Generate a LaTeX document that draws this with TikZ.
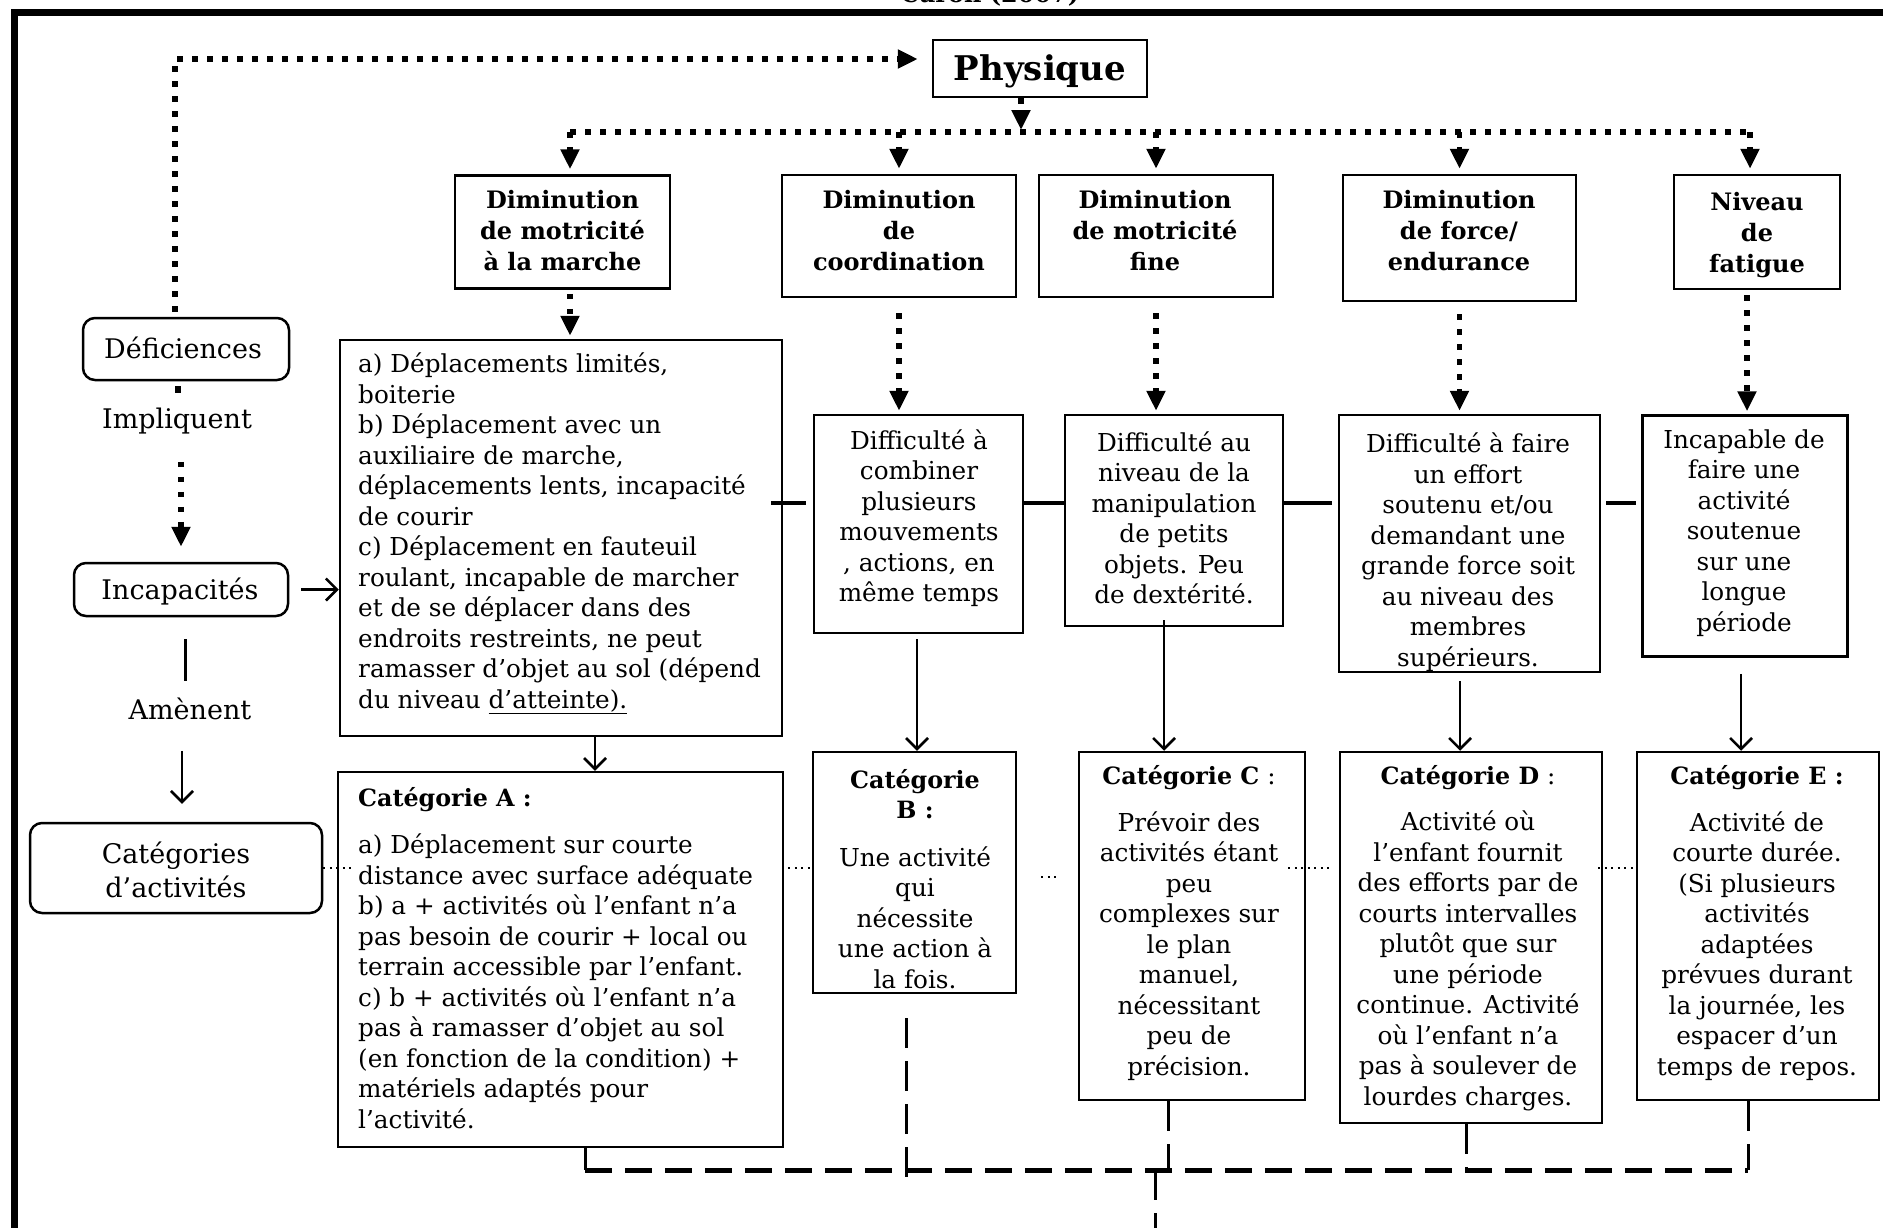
\documentclass[tikz,border=0pt]{standalone}
\usepackage{fontspec}
\setmainfont{DejaVu Serif}
\usetikzlibrary{arrows.meta,calc}
\newcommand\bodyf{\fontsize{24.7pt}{30.5pt}\selectfont}
\newcommand\leftf{\fontsize{27pt}{34pt}\selectfont}
\newcommand\headf{\bfseries\fontsize{24pt}{31pt}\selectfont}
\newcommand\cath[1]{{\fontsize{23.8pt}{30.5pt}\selectfont\bfseries #1}}
\begin{document}
\begin{tikzpicture}[x=1pt,y=-1pt,
  box/.style={draw,line width=2.5pt,inner sep=0pt},
  rbox/.style={box,rounded corners=12pt},
  txt/.style={inner sep=0pt,align=center,font=\bodyf},
  lftxt/.style={inner sep=0pt,align=center,font=\leftf},
  ltxt/.style={inner sep=0pt,align=left,font=\bodyf,anchor=west},
  htxt/.style={inner sep=0pt,align=center,font=\headf},
  dotline/.style={line width=5.5pt,dash pattern=on 5.5pt off 9.5pt},
  dotarrow/.style={dotline,-{Triangle[length=20pt,width=18pt]}},
  solidarrow/.style={line width=2.5pt,-{Straight Barb[length=11pt,width=22pt]}},
  link/.style={line width=3.5pt},
  smalldots/.style={line width=2pt,dash pattern=on 2pt off 4.5pt},
  bigdash/.style={line width=5pt,dash pattern=on 27pt off 13pt},
  thindash/.style={line width=3pt,dash pattern=on 30pt off 13pt}]
\useasboundingbox (0,0) rectangle (1883,1227);
\fill[white] (0,0) rectangle (1883,1227);
% frame and cut title
\draw[line width=7pt] (14.5,1240) -- (14.5,12) -- (1900,12);
\node[font=\bfseries\fontsize{24pt}{28pt}\selectfont,anchor=base] (title) at (990,2) {Caron (2007)};

% top
\node[box,minimum width=214pt,minimum height=57pt] (phys) at (1040,68.5) {};
\node[inner sep=0pt,font=\bfseries\fontsize{34pt}{38pt}\selectfont] (physt) at (1040,71) {Physique};
\coordinate (busL) at (570,132);
\coordinate (busR) at (1750,132);

% left column
\node[rbox,minimum width=206pt,minimum height=62pt] (def) at (186,349) {};
\node[lftxt] (deft) at (183,348) {Déficiences};
\node[lftxt] (impl) at (177,421) {Impliquent};
\node[rbox,minimum width=214pt,minimum height=53pt] (inc) at (181,589.5) {};
\node[lftxt] (inct) at (180,592) {Incapacités};
\node[lftxt] (amen) at (190,709) {Amènent};
\node[rbox,minimum width=292pt,minimum height=90pt] (cat) at (176,868) {};
\node[lftxt] (catt) at (176,870) {Catégories\\d’activités};

% level 1
\node[box,minimum width=215pt,minimum height=113pt] (B1) at (562.5,232) {};
\node[box,minimum width=234pt,minimum height=122pt] (B2) at (899,236) {};
\node[box,minimum width=234pt,minimum height=122pt] (B3) at (1156,236) {};
\node[box,minimum width=233pt,minimum height=126pt] (B4) at (1459.5,238) {};
\node[box,minimum width=166pt,minimum height=114pt] (B5) at (1757,232) {};
\node[htxt] (B1t) at (562.5,231) {Diminution\\de motricité\\à la marche};
\node[htxt] (B2t) at (899,231) {Diminution\\de\\coordination};
\node[htxt] (B3t) at (1155,231) {Diminution\\de motricité\\fine};
\node[htxt] (B4t) at (1459,231) {Diminution\\de force/\\endurance};
\node[htxt] (B5t) at (1757,235) {Niveau\\de\\fatigue};

% level 2
\node[box,minimum width=442pt,minimum height=396pt] (C1) at (561,538) {};
\node[box,minimum width=209pt,minimum height=218pt] (C2) at (918.5,524) {};
\node[box,minimum width=218pt,minimum height=211pt] (C3) at (1174,520.5) {};
\node[box,minimum width=261pt,minimum height=257pt] (C4) at (1469.5,543.5) {};
\node[box,minimum width=205pt,minimum height=241pt] (C5) at (1745,536) {};
\node[ltxt] (C1t) at (358,533.5) {a) Déplacements limités,\\boiterie\\b) Déplacement avec un\\auxiliaire de marche,\\déplacements lents, incapacité\\de courir\\c) Déplacement en fauteuil\\roulant, incapable de marcher\\et de se déplacer dans des\\endroits restreints, ne peut\\ramasser d’objet au sol (dépend\\du niveau \underline{d’atteinte).}};
\node[txt] (C2t) at (919,518) {Difficulté à\\combiner\\plusieurs\\mouvements\\, actions, en\\même temps};
\node[txt] (C3t) at (1174,518) {Difficulté au\\niveau de la\\manipulation\\de petits\\objets. Peu\\de dextérité.};
\begin{scope}
\clip (C4.south west) rectangle (C4.north east);
\node[txt] (C4t) at (1468,552) {Difficulté à faire\\un effort\\soutenu et/ou\\demandant une\\grande force soit\\au niveau des\\membres\\supérieurs.};
\end{scope}
\node[txt] (C5t) at (1744,533) {Incapable de\\faire une\\activité\\soutenue\\sur une\\longue\\période};

% categories
\node[box,minimum width=445pt,minimum height=375pt] (CA) at (560.5,959.5) {};
\node[box,minimum width=203pt,minimum height=241pt] (CB) at (914.5,872.5) {};
\node[box,minimum width=226pt,minimum height=348pt] (CC) at (1192,926) {};
\node[box,minimum width=262pt,minimum height=371pt] (CD) at (1471,937.5) {};
\node[box,minimum width=242pt,minimum height=348pt] (CE) at (1758,926) {};
\node[ltxt] (CAt) at (358,958) {\cath{Catégorie A :}\\[17pt]a) Déplacement sur courte\\distance avec surface adéquate\\b) a + activités où l’enfant n’a\\pas besoin de courir + local ou\\terrain accessible par l’enfant.\\c) b + activités où l’enfant n’a\\pas à ramasser d’objet au sol\\(en fonction de la condition) +\\matériels adaptés pour\\l’activité.};
\begin{scope}
\clip (CB.south west) rectangle (CB.north east);
\node[txt] (CBt) at (915,879) {\cath{Catégorie}\\\cath{B :}\\[17pt]Une activité\\qui\\nécessite\\une action à\\la fois.};
\end{scope}
\node[txt] (CCt) at (1189,923) {\cath{Catégorie C} :\\[16pt]Prévoir des\\activités étant\\peu\\complexes sur\\le plan\\manuel,\\nécessitant\\peu de\\précision.};
\node[txt] (CDt) at (1468,938) {\cath{Catégorie D} :\\[16pt]Activité où\\l’enfant fournit\\des efforts par de\\courts intervalles\\plutôt que sur\\une période\\continue. Activité\\où l’enfant n’a\\pas à soulever de\\lourdes charges.};
\node[txt] (CEt) at (1757,923) {\cath{Catégorie E :}\\[16pt]Activité de\\courte durée.\\(Si plusieurs\\activités\\adaptées\\prévues durant\\la journée, les\\espacer d’un\\temps de repos.};

% --- connectors ---
\draw[dotarrow] ([xshift=-11pt,yshift=5pt]def.north) |- ([xshift=-14pt,yshift=9.5pt]phys.west);
\draw[dotarrow] ([xshift=-19pt]phys.south) -- ([xshift=-19pt,yshift=2pt]phys.south |- busL);
\draw[dotline] (busL) -- (busR);
\draw[dotarrow,shorten >=5pt] (busL) -- (busL |- B1.north);
\draw[dotarrow,shorten >=5pt] (B2.north |- busL) -- (B2.north);
\draw[dotarrow,shorten >=5pt] (B3.north |- busL) -- (B3.north);
\draw[dotarrow,shorten >=5pt] (B4.north |- busL) -- (B4.north);
\draw[dotarrow,shorten >=5pt] (busR) -- (busR |- B5.north);

\draw[dotarrow,shorten <=4pt,shorten >=3pt] (busL |- B1.south) -- (busL |- C1.north);
\draw[dotarrow,shorten <=15pt,shorten >=3pt] (B2.south) -- (B2.south |- C2.north);
\draw[dotarrow,shorten <=15pt,shorten >=3pt] (B3.south) -- (B3.south |- C3.north);
\draw[dotarrow,shorten <=12pt,shorten >=3pt] (B4.south) -- (B4.south |- C4.north);
\draw[dotarrow,shorten <=5pt,shorten >=3pt] ([xshift=-10pt]B5.south) -- ([xshift=-10pt]B5.south |- C5.north);

\coordinate (hl) at (0,503);
\draw[link] ([xshift=-12pt]C1.east |- hl) -- ([xshift=-7pt]C2.west |- hl);
\draw[link] (C2.east |- hl) -- (C3.west |- hl);
\draw[link] (C3.east |- hl) -- ([xshift=-6pt]C4.west |- hl);
\draw[link] ([xshift=5pt]C4.east |- hl) -- ([xshift=-5pt]C5.west |- hl);

% left column connectors
\draw[line width=6pt] ([xshift=-8pt,yshift=-5pt]def.south) -- ([xshift=-8pt,yshift=-12pt]def.south);
\draw[dotarrow] ([yshift=100pt]inc.north) -- ([yshift=15pt]inc.north);
\draw[solidarrow,shorten <=12pt] (inc.east) -- (C1.west |- inc.east);
\draw[line width=3pt] ([xshift=4pt,yshift=-22pt]inc.south) -- ([xshift=4pt,yshift=-64pt]inc.south);
\draw[solidarrow] ([xshift=6pt,yshift=71pt]cat.north) -- ([xshift=6pt,yshift=18pt]cat.north);

% level 2 to categories
\draw[solidarrow] ([xshift=34pt]C1.south) -- ([xshift=34pt]C1.south |- CA.north);
\draw[solidarrow,shorten <=5pt] ([xshift=-1.5pt]C2.south) -- ([xshift=-1.5pt]C2.south |- CB.north);
\draw[solidarrow] ([xshift=-10pt,yshift=7pt]C3.south) -- ([xshift=-10pt]C3.south |- CC.north);
\draw[solidarrow,shorten <=8pt] ([xshift=-9.5pt]C4.south) -- ([xshift=-9.5pt]C4.south |- CD.north);
\draw[solidarrow,shorten <=16pt] ([xshift=-4pt]C5.south) -- ([xshift=-4pt]C5.south |- CE.north);

% small dots
\draw[smalldots] (cat.east) -- ([xshift=14pt]CA.west |- cat.east);
\draw[smalldots] ([xshift=4pt]CA.east |- cat.east) -- (CB.west |- cat.east);
\draw[smalldots] ($(CB.east |- cat.east)+(24,9)$) -- ($(CB.east |- cat.east)+(40,9)$);
\draw[smalldots] ([xshift=-18pt]CC.east |- cat.east) -- ([xshift=-10pt]CD.west |- cat.east);
\draw[smalldots] ([xshift=-5pt]CD.east |- cat.east) -- ([xshift=-3pt]CE.west |- cat.east);

% bottom dashed network
\coordinate (jn) at (1155,1170);
\coordinate (ja) at ([xshift=24.5pt]CA.south |- jn);
\coordinate (je) at ([xshift=-10pt]CE.south |- jn);
\draw[line width=3pt] ([xshift=24.5pt]CA.south) -- (ja);
\draw[bigdash] (ja) -- (je);
\draw[thindash] ([xshift=-8.5pt,yshift=-24pt]CB.south) -- ([xshift=-8.5pt,yshift=-7pt]CB.south |- jn);
\draw[thindash] ([xshift=-24pt]CC.south) -- ([xshift=-24pt]CC.south |- jn);
\draw[thindash] ([xshift=-5pt]CD.south) -- ([xshift=-5pt]CD.south |- jn);
\draw[thindash] ([xshift=-10pt]CE.south) -- (je);
\draw[thindash] (jn) -- ++(0,80);
\end{tikzpicture}
\end{document}
